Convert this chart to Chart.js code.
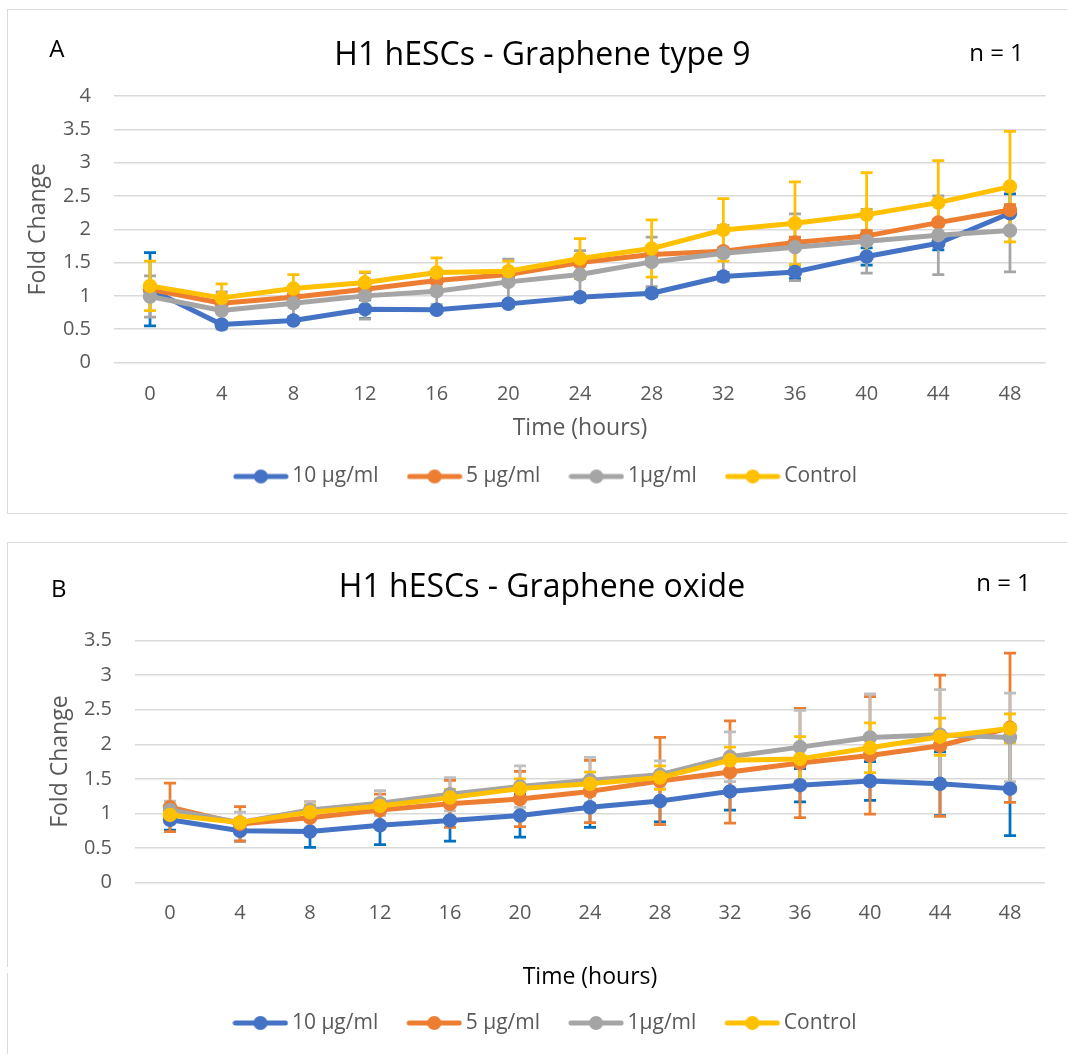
<!DOCTYPE html>
<html>
<head>
<meta charset="utf-8">
<script src="https://cdn.jsdelivr.net/npm/chart.js@4.4.1/dist/chart.umd.min.js"></script>
<style>
html,body{margin:0;padding:0;background:#fff;width:1067px;height:1054px;overflow:hidden;}
.box{position:absolute;border:1px solid #d9d9d9;box-sizing:border-box;}
canvas{position:absolute;}
</style>
</head>
<body>
<div class="box" style="left:7px;top:9px;width:1070px;height:505px"></div>
<div class="box" style="left:7px;top:542px;width:1070px;height:530px"></div>
<div style="position:absolute;left:5px;top:967px;width:5px;height:6px;background:#fff"></div>
<canvas id="cA" style="left:8px;top:10px" width="1059" height="503"></canvas>
<canvas id="cB" style="left:8px;top:543px" width="1059" height="511"></canvas>
<script>
// ---------- data ----------
const hours = ['0','4','8','12','16','20','24','28','32','36','40','44','48'];
const seriesNames = ['10 µg/ml', '5 µg/ml', '1µg/ml', 'Control'];

const yTickLabelsA = ['0','0.5','1','1.5','2','2.5','3','3.5','4'];
const yTickLabelsB = ['0','0.5','1','1.5','2','2.5','3','3.5'];

// Panel A: Graphene type 9
const a10   = [1.10, 0.57, 0.63, 0.80, 0.79, 0.88, 0.98, 1.04, 1.29, 1.36, 1.59, 1.79, 2.24];
const a10Err= [0.55, 0.04, 0.04, 0.14, 0.04, 0.04, 0.05, 0.05, 0.06, 0.10, 0.13, 0.10, 0.29];
const a5    = [1.10, 0.89, 0.98, 1.10, 1.23, 1.32, 1.50, 1.62, 1.67, 1.80, 1.90, 2.10, 2.29];
const a5Err = [0.05, 0.05, 0.05, 0.05, 0.05, 0.05, 0.05, 0.05, 0.05, 0.08, 0.08, 0.05, 0.08];
const a1    = [0.99, 0.78, 0.89, 1.00, 1.07, 1.21, 1.32, 1.51, 1.64, 1.73, 1.82, 1.91, 1.98];
const a1Err = [0.31, 0.28, 0.20, 0.35, 0.20, 0.34, 0.36, 0.37, 0.42, 0.50, 0.48, 0.59, 0.62];
const aCtl  = [1.15, 0.97, 1.11, 1.20, 1.35, 1.37, 1.56, 1.71, 1.99, 2.09, 2.22, 2.40, 2.64];
const aCtlErr=[0.37, 0.21, 0.21, 0.16, 0.22, 0.15, 0.30, 0.43, 0.47, 0.62, 0.63, 0.63, 0.83];

// Panel B: Graphene oxide
const b10   = [0.91, 0.75, 0.74, 0.83, 0.90, 0.97, 1.09, 1.18, 1.32, 1.41, 1.47, 1.43, 1.36];
const b10Err= [0.15, 0.15, 0.23, 0.28, 0.30, 0.31, 0.29, 0.30, 0.27, 0.24, 0.28, 0.46, 0.68];
const b5    = [1.09, 0.85, 0.94, 1.05, 1.14, 1.21, 1.32, 1.47, 1.60, 1.73, 1.84, 1.98, 2.24];
const b5Err = [0.35, 0.25, 0.23, 0.23, 0.34, 0.40, 0.45, 0.63, 0.74, 0.79, 0.85, 1.02, 1.08];
const b1    = [1.05, 0.87, 1.05, 1.15, 1.28, 1.39, 1.48, 1.56, 1.82, 1.96, 2.10, 2.14, 2.10];
const b1Err = [0.13, 0.15, 0.12, 0.18, 0.24, 0.30, 0.33, 0.20, 0.36, 0.53, 0.63, 0.65, 0.64];
const bCtl  = [0.98, 0.87, 1.02, 1.11, 1.23, 1.36, 1.43, 1.52, 1.77, 1.79, 1.95, 2.11, 2.23];
const bCtlErr=[0.06, 0.06, 0.10, 0.10, 0.12, 0.14, 0.17, 0.17, 0.19, 0.32, 0.36, 0.27, 0.21];

// ---------- styles ----------
const FONT = "'Open Sans', 'Noto Sans', sans-serif";
Chart.defaults.font.family = FONT;
const lineColors = ['#4472C4', '#ED7D31', '#A5A5A5', '#FFC000'];
const errColorsA = ['#0070C0', '#ED7D31', '#A5A5A5', '#FFC000'];
const errColorsB = ['#0070C0', '#ED7D31', '#BFBFBF', '#FFC000'];

function legendMark(color) {
  const c = document.createElement('canvas');
  c.width = 56; c.height = 16;
  const g = c.getContext('2d');
  g.strokeStyle = color; g.lineWidth = 5; g.lineCap = 'round';
  g.beginPath(); g.moveTo(3, 8); g.lineTo(53, 8); g.stroke();
  g.fillStyle = color;
  g.beginPath(); g.arc(28, 8, 7, 0, Math.PI * 2); g.fill();
  return c;
}
const marks = lineColors.map(legendMark);

const errorBars = {
  id: 'errorBars',
  beforeDatasetsDraw(chart) {
    const ctx = chart.ctx, ys = chart.scales.y;
    const cap = 6;
    chart.data.datasets.forEach((ds, di) => {
      const meta = chart.getDatasetMeta(di);
      ctx.save();
      ctx.strokeStyle = ds.errorColor;
      ctx.lineWidth = 2.75;
      ctx.lineCap = 'butt';
      meta.data.forEach((pt, i) => {
        const v = ds.data[i], e = ds.errors[i];
        const x = pt.x;
        const yt = ys.getPixelForValue(v + e), yb = ys.getPixelForValue(v - e);
        ctx.beginPath();
        ctx.moveTo(x, yt); ctx.lineTo(x, yb);
        ctx.moveTo(x - cap, yt); ctx.lineTo(x + cap, yt);
        ctx.moveTo(x - cap, yb); ctx.lineTo(x + cap, yb);
        ctx.stroke();
      });
      ctx.restore();
    });
  }
};

const panelText = {
  id: 'panelText',
  afterDraw(chart, args, opts) {
    const ctx = chart.ctx;
    (opts.items || []).forEach(t => {
      ctx.save();
      ctx.font = t.font;
      ctx.fillStyle = t.color;
      ctx.textAlign = t.align;
      ctx.textBaseline = 'alphabetic';
      ctx.fillText(t.text, t.x, t.y);
      ctx.restore();
    });
  }
};

function makeSets(values, errors, errColors) {
  return seriesNames.map((name, i) => ({
    label: name,
    data: values[i],
    errors: errors[i],
    errorColor: errColors[i],
    borderColor: lineColors[i],
    backgroundColor: lineColors[i],
    pointBackgroundColor: lineColors[i],
    pointBorderColor: lineColors[i],
    borderWidth: 5,
    pointRadius: 6.5,
    pointBorderWidth: 1.5,
    pointHoverRadius: 6.5,
    borderJoinStyle: 'round',
    borderCapStyle: 'round',
    tension: 0,
    order: 4 - i
  }));
}

function makeChart(id, cfg) {
  return new Chart(document.getElementById(id), {
    type: 'line',
    data: { labels: hours, datasets: makeSets(cfg.values, cfg.errors, cfg.errColors) },
    plugins: [errorBars, panelText],
    options: {
      responsive: false,
      animation: false,
      events: [],
      layout: { padding: cfg.padding },
      scales: {
        x: {
          type: 'category',
          offset: true,
          grid: { display: false, drawTicks: false },
          border: { display: false },
          ticks: { color: '#595959', font: { size: 20 }, padding: cfg.xTickPad, maxRotation: 0, autoSkip: false },
          title: { display: true, text: 'Time (hours)', color: cfg.xTitleColor, font: { size: 23 }, padding: { top: 0, bottom: cfg.xTitlePadB } },
          afterFit: s => { s.height = cfg.xHeight; }
        },
        y: {
          min: 0, max: cfg.yMax,
          grid: { color: '#d9d9d9', lineWidth: 1.5, drawTicks: false },
          border: { display: false },
          ticks: {
            stepSize: 0.5, color: '#595959', font: { size: 20 }, padding: cfg.yTickPad,
            callback: (v, i) => cfg.yLabels[i]
          },
          title: { display: true, text: 'Fold Change', color: '#595959', font: { size: 23 }, padding: { top: cfg.yTitlePadT, bottom: 0 } },
          afterFit: s => { s.width = cfg.yWidth; }
        }
      },
      plugins: {
        title: { display: false },
        tooltip: { enabled: false },
        legend: {
          display: true,
          position: 'bottom',
          labels: {
            usePointStyle: true,
            pointStyleWidth: 42,
            padding: 35,
            color: '#595959',
            font: { size: 21 },
            sort: (a, b) => a.datasetIndex - b.datasetIndex,
            generateLabels: (chart) => {
              const items = Chart.defaults.plugins.legend.labels.generateLabels(chart);
              items.forEach(it => { it.pointStyle = marks[it.datasetIndex]; });
              return items;
            }
          }
        },
        panelText: { items: cfg.texts }
      }
    }
  });
}

makeChart('cA', {
  values: [a10, a5, a1, aCtl],
  errors: [a10Err, a5Err, a1Err, aCtlErr],
  errColors: errColorsA,
  yMax: 4, yLabels: yTickLabelsA,
  padding: { top: 86, bottom: 16, left: 43, right: 21.2 },
  xHeight: 68.5, xTickPad: 20, xTitlePadB: -11.3, xTitleColor: '#595959',
  yWidth: 63.2, yTickPad: 23.2, yTitlePadT: -26.8,
  texts: [
    { text: 'A', x: 41.3, y: 47.3, align: 'left', font: `24px ${FONT}`, color: '#000' },
    { text: 'H1 hESCs - Graphene type 9', x: 534.5, y: 55, align: 'center', font: `32px ${FONT}`, color: '#000' },
    { text: 'n = 1', x: 988.5, y: 50.7, align: 'center', font: `24px ${FONT}`, color: '#000' }
  ]
});

makeChart('cB', {
  values: [b10, b5, b1, bCtl],
  errors: [b10Err, b5Err, b1Err, bCtlErr],
  errColors: errColorsB,
  yMax: 3.5, yLabels: yTickLabelsB,
  padding: { top: 97.6, bottom: 10.5, left: 43, right: 22 },
  xHeight: 94.8, xTickPad: 18.3, xTitlePadB: -13.5, xTitleColor: '#000000',
  yWidth: 84, yTickPad: 23, yTitlePadT: -4.8,
  texts: [
    { text: 'B', x: 43, y: 53.7, align: 'left', font: `24px ${FONT}`, color: '#000' },
    { text: 'H1 hESCs - Graphene oxide', x: 534, y: 53.7, align: 'center', font: `32px ${FONT}`, color: '#000' },
    { text: 'n = 1', x: 995.5, y: 47.7, align: 'center', font: `24px ${FONT}`, color: '#000' }
  ]
});
</script>
</body>
</html>
